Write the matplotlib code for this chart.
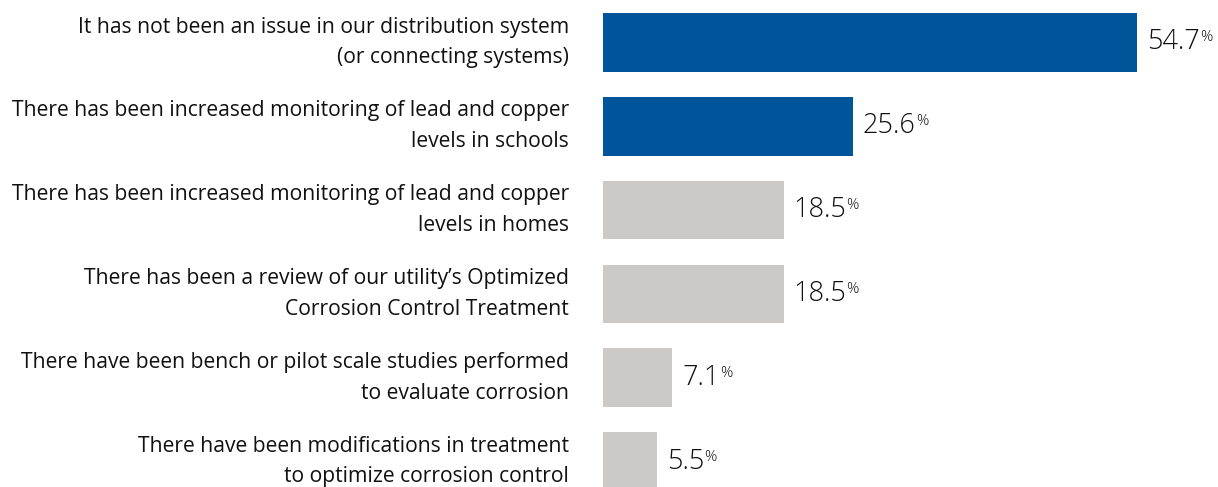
import matplotlib
matplotlib.use("Agg")
import matplotlib.pyplot as plt

categories = [
    "It has not been an issue in our distribution system\n(or connecting systems)",
    "There has been increased monitoring of lead and copper\nlevels in schools",
    "There has been increased monitoring of lead and copper\nlevels in homes",
    "There has been a review of our utility\u2019s Optimized\nCorrosion Control Treatment",
    "There have been bench or pilot scale studies performed\nto evaluate corrosion",
    "There have been modifications in treatment\nto optimize corrosion control",
]
values = [54.7, 25.6, 18.5, 18.5, 7.1, 5.5]
highlight = [True, True, False, False, False, False]

BLUE = "#005499"
GRAY = "#CDC9C6"
FONT = "Open Sans"

W, H = 1218, 487
fig = plt.figure(figsize=(W / 100, H / 100), dpi=100)
ax_left = 603 / W
ax = fig.add_axes([ax_left, 0, 1 - ax_left, 1])

ypos = list(range(len(values)))
colors = [BLUE if h else GRAY for h in highlight]
ax.barh(ypos, values, height=0.70, color=colors, edgecolor="none")

ax.set_xlim(0, 63.0)
ax.set_ylim(5.304, -0.507)
ax.axis("off")

for y, v, label in zip(ypos, values, categories):
    ax.annotate(label, xy=(0, y), xytext=(-34, 0), textcoords="offset pixels",
                ha="right", va="center", fontsize=15.2, family=FONT,
                color="#111111", linespacing=1.62)
    t = ax.annotate(f"{v:.1f}", xy=(v, y), xytext=(10, 0), textcoords="offset pixels",
                    ha="left", va="center", fontsize=19.5, family=FONT,
                    fontweight=300, color="#111111")
    ax.annotate("%", xy=(1, 1), xycoords=t, xytext=(0, -2), textcoords="offset pixels",
                ha="left", va="top", fontsize=11, family=FONT,
                fontweight=300, color="#111111")

fig.savefig("out.png", dpi=100)
